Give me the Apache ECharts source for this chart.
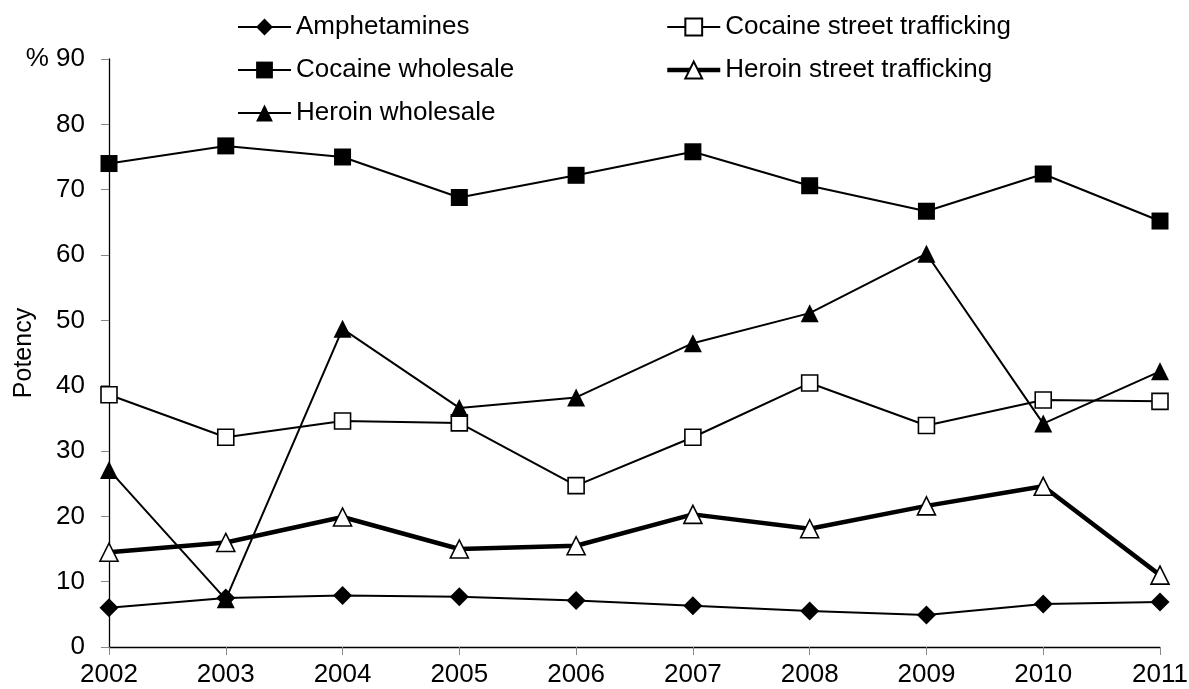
<!DOCTYPE html>
<html>
<head>
<meta charset="utf-8">
<script src="https://cdn.jsdelivr.net/npm/echarts@6/dist/echarts.min.js"></script>
<style>html,body{margin:0;padding:0;background:#fff}#c{width:1189px;height:689px}</style>
</head>
<body>
<div id="c"></div>
<script>
const years = ['2002','2003','2004','2005','2006','2007','2008','2009','2010','2011'];
const amphetamines = [6.0, 7.5, 7.9, 7.7, 7.1, 6.3, 5.5, 4.9, 6.6, 6.9];
const cocaineStreet = [38.6, 32.1, 34.6, 34.3, 24.7, 32.1, 40.4, 33.9, 37.8, 37.6];
const cocaineWholesale = [74.0, 76.7, 75.0, 68.8, 72.2, 75.8, 70.6, 66.7, 72.4, 65.2];
const heroinStreet = [14.5, 16.0, 19.9, 15.0, 15.5, 20.3, 18.1, 21.6, 24.6, 11.0];
const heroinWholesale = [27.1, 7.3, 48.7, 36.6, 38.2, 46.5, 51.1, 60.2, 34.2, 42.2];
const yTicks = [0, 10, 20, 30, 40, 50, 60, 70, 80, 90];

const font = 'Liberation Sans, Arial, sans-serif';
function mkSeries(name, data, symbol, size, fill, width) {
  return {
    name, type: 'line', data, symbol, symbolSize: size,
    lineStyle: { color: '#000', width: width },
    itemStyle: { color: fill, borderColor: '#000', borderWidth: fill === '#fff' ? 1.6 : 0 },
    emphasis: { disabled: true },
    z: 2
  };
}
const chart = echarts.init(document.getElementById('c'));
const legendCommon = {
  orient: 'vertical', itemGap: 17, itemWidth: 53, itemHeight: 21,
  textStyle: { fontFamily: font, fontSize: 26, lineHeight: 26, color: '#000' },
  lineStyle: { width: 2 },
  selectedMode: false
};
chart.setOption({
  animation: false,
  backgroundColor: '#fff',
  legend: [
    Object.assign({}, legendCommon, { left: 232, top: 9, data: ['Amphetamines', 'Cocaine wholesale', 'Heroin wholesale'] }),
    Object.assign({}, legendCommon, { left: 660, top: 9, data: [
      'Cocaine street trafficking',
      { name: 'Heroin street trafficking', lineStyle: { width: 4.5 } }
    ] })
  ],
  grid: { left: 109, right: 29, top: 59, bottom: 42, containLabel: false, outerBoundsMode: 'none' },
  xAxis: {
    type: 'category', data: years, boundaryGap: false,
    axisLine: { lineStyle: { color: '#000', width: 1.3 } },
    axisTick: { show: true, alignWithLabel: true, length: 8, lineStyle: { color: '#888' } },
    axisLabel: { fontFamily: font, fontSize: 26, color: '#000', margin: 15 },
    splitLine: { show: false }
  },
  yAxis: {
    type: 'value', min: yTicks[0], max: yTicks[yTicks.length - 1], interval: 10,
    name: 'Potency', nameLocation: 'middle', nameRotate: 90, nameGap: 72, nameMoveOverlap: false,
    nameTextStyle: { fontFamily: font, fontSize: 25, color: '#000' },
    axisLine: { show: true, lineStyle: { color: '#000', width: 1.3 } },
    axisTick: { show: true, length: 8, lineStyle: { color: '#888' } },
    axisLabel: { fontFamily: font, fontSize: 26, color: '#000', margin: 24,
      formatter: v => v === 90 ? '% 90' : String(v) },
    splitLine: { show: false }
  },
  series: [
    mkSeries('Amphetamines', amphetamines, 'diamond', 19, '#000', 2),
    mkSeries('Cocaine street trafficking', cocaineStreet, 'rect', 16, '#fff', 2),
    mkSeries('Cocaine wholesale', cocaineWholesale, 'rect', 17, '#000', 2),
    mkSeries('Heroin street trafficking', heroinStreet, 'triangle', 18, '#fff', 4.5),
    mkSeries('Heroin wholesale', heroinWholesale, 'triangle', 18, '#000', 2)
  ]
});
</script>
</body>
</html>
